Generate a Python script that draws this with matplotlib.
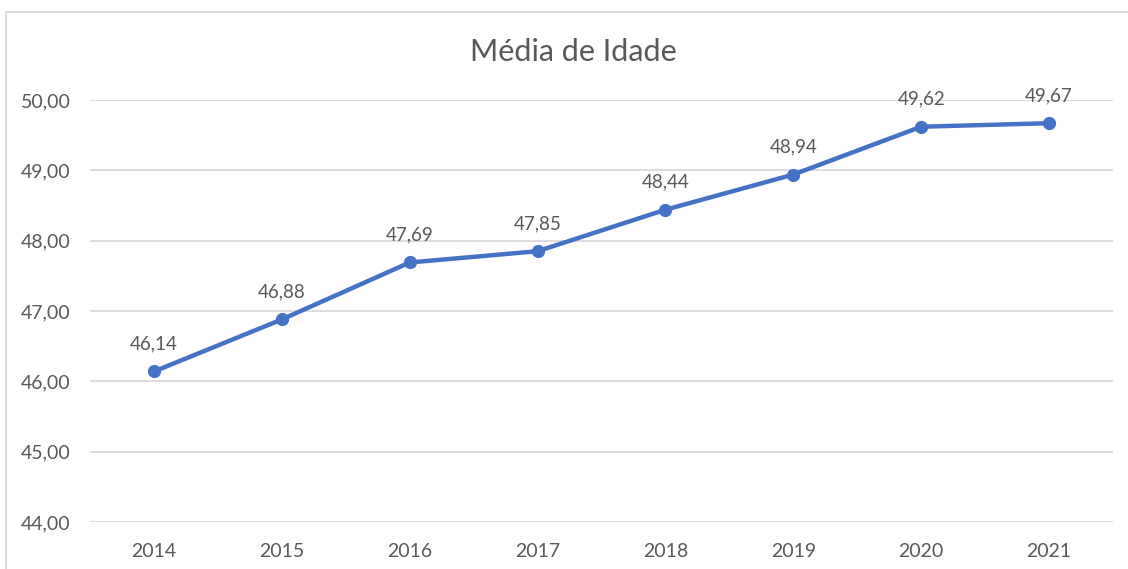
import matplotlib.pyplot as plt
from matplotlib.patches import Rectangle

anos = ["2014", "2015", "2016", "2017", "2018", "2019", "2020", "2021"]
media_idade = [46.14, 46.88, 47.69, 47.85, 48.44, 48.94, 49.62, 49.67]
y_ticks = [44, 45, 46, 47, 48, 49, 50]

plt.rcParams['font.family'] = ['Lato', 'DejaVu Sans']
texto = '#595959'

fig = plt.figure(figsize=(11.28, 5.69), dpi=100)
ax = fig.add_axes([90 / 1128, 1 - 522 / 569, 1023 / 1128, 422 / 569])

x = list(range(len(anos)))
ax.plot(x, media_idade, color='#4472C4', linewidth=3.2, marker='o', markersize=8.5, zorder=3)

for xi, v in zip(x, media_idade):
    ax.annotate(f"{v:.2f}".replace('.', ','), (xi, v), xytext=(0, 20), textcoords='offset points',
                ha='center', va='center', fontsize=13.5, color=texto)

ax.set_xlim(-0.5, len(anos) - 0.5)
ax.set_ylim(44, 50)
ax.set_xticks(x)
ax.set_xticklabels(anos)
ax.set_yticks(y_ticks)
ax.set_yticklabels([f"{t:.2f}".replace('.', ',') for t in y_ticks])
ax.tick_params(length=0, labelsize=14, colors=texto)
ax.tick_params(axis='x', pad=15)
ax.tick_params(axis='y', pad=14)
ax.grid(axis='y', color='#D9D9D9', linewidth=1.3)
ax.set_axisbelow(True)
for s in ax.spines.values():
    s.set_visible(False)

fig.text(573 / 1128, 1 - 52 / 569, "Média de Idade", ha='center', va='center', fontsize=22, color=texto)

# moldura do gráfico
fig.patches.append(Rectangle((6 / 1128, -0.1), 1.2, 1 - 12 / 569 + 0.1, transform=fig.transFigure,
                             fill=False, edgecolor='#D9D9D9', linewidth=1.3))

fig.savefig("out.png", dpi=100)
